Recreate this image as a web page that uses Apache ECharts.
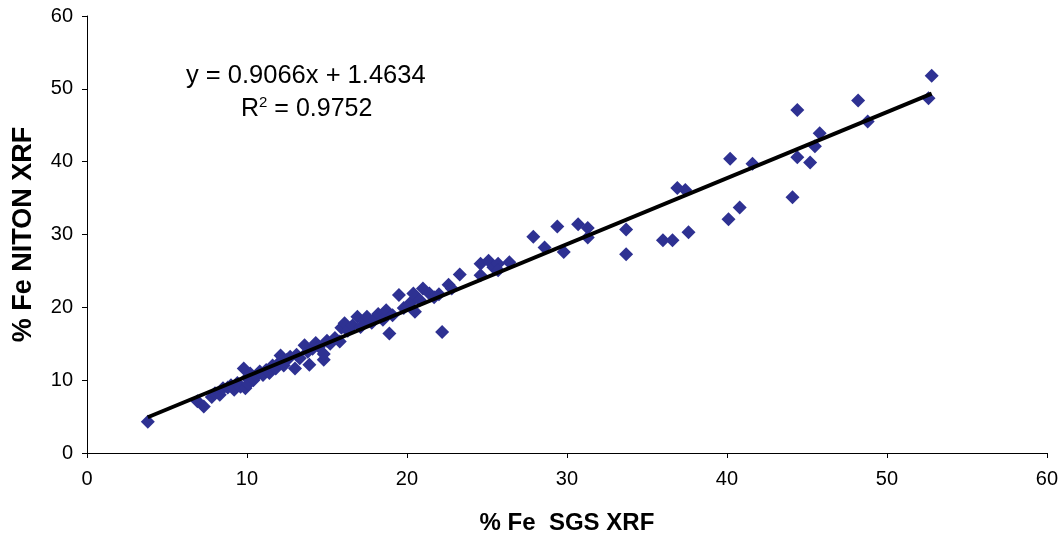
<!DOCTYPE html>
<html>
<head>
<meta charset="utf-8">
<script src="https://cdn.jsdelivr.net/npm/echarts@6/dist/echarts.min.js"></script>
<style>
  html, body { margin: 0; padding: 0; background: #fff; }
  #chart { width: 1061px; height: 540px; }
</style>
</head>
<body>
<div id="chart"></div>
<script>
// % Fe by SGS XRF (x) and by NITON XRF (y)
const sgsXrf = [
  3.8, 6.9, 7.3, 7.8,
  8.0, 8.3, 8.5, 8.8, 9.0, 9.2, 9.4, 9.6, 9.8, 9.9, 10.0, 10.1, 10.2, 10.4,
  10.6, 10.8, 11.0, 11.2, 11.4, 11.6, 11.8, 12.0, 12.1, 12.3, 12.5, 12.7, 13.0, 13.1, 13.3,
  13.6, 13.9, 13.8, 14.1, 14.3, 14.5, 14.8, 14.8, 15.0, 15.2, 15.5, 15.8, 15.9, 16.1, 16.3,
  16.6, 16.9, 17.1, 17.4, 17.5, 17.8, 18.0, 18.2, 18.5, 18.7, 18.9, 19.1,
  19.5, 19.8, 20.2, 20.4, 20.5, 20.8, 21.0, 21.4, 21.7, 22.0, 22.2, 22.6, 22.8,
  23.3, 24.6, 24.6, 25.1, 25.4, 25.7, 25.7, 26.4,
  27.9, 28.6, 29.4, 29.8, 30.7, 31.3, 31.3, 33.7, 33.7, 36.0, 36.6, 36.9, 37.4, 37.6,
  40.1, 40.2, 40.8, 41.6, 44.1, 44.4, 44.4, 45.2, 45.5, 45.8, 48.2, 48.8, 52.6, 52.8
];
const nitonXrf = [
  4.3, 7.1, 6.4, 7.7,
  8.2, 8.0, 8.9, 9.0, 9.3, 8.7, 9.6, 9.1, 11.6, 8.9, 10.3, 9.5, 10.9, 10.0,
  10.6, 11.2, 10.7, 11.4, 11.0, 12.0, 11.6, 12.4, 13.4, 12.0, 12.8, 13.2, 11.6, 13.5, 13.0,
  14.8, 12.1, 13.9, 14.3, 15.1, 14.6, 12.8, 13.6, 15.4, 15.0, 15.8, 15.3, 17.2, 17.8, 16.8,
  17.5, 18.7, 17.3, 18.2, 18.7, 17.9, 18.4, 19.1, 18.3, 19.6, 16.4, 18.9,
  21.7, 19.9, 20.6, 21.9, 19.4, 21.0, 22.6, 21.9, 21.4, 21.8, 16.6, 23.1, 22.6,
  24.5, 24.4, 26.0, 26.4, 25.5, 26.0, 25.1, 26.2,
  29.7, 28.2, 31.1, 27.6, 31.4, 30.9, 29.6, 30.7, 27.3, 29.2, 29.2, 36.4, 36.1, 30.3,
  32.1, 40.4, 33.7, 39.7, 35.1, 47.1, 40.6, 39.9, 42.1, 43.9, 48.4, 45.5, 48.7, 51.8
];

// linear trend (as printed on the chart)
const slope = 0.9066;
const intercept = 1.4634;
const rSquared = 0.9752;

const points = sgsXrf.map((x, i) => [x, nitonXrf[i]]);
const xMin = Math.min(...sgsXrf);
const xMax = Math.max(...sgsXrf);
const trend = [[xMin, slope * xMin + intercept], [xMax, slope * xMax + intercept]];

const font = 'Liberation Sans, Arial, sans-serif';

const option = {
  animation: false,
  grid: { left: 87, right: 14, top: 16, bottom: 85 },
  xAxis: {
    type: 'value',
    min: 0, max: 60, interval: 10,
    name: '% Fe  SGS XRF',
    nameLocation: 'middle',
    nameGap: 58,
    nameTextStyle: { fontFamily: font, fontWeight: 'bold', fontSize: 24, color: '#000' },
    axisLine: { lineStyle: { color: '#000', width: 1 } },
    axisTick: { length: 5, lineStyle: { color: '#000' } },
    axisLabel: { fontFamily: font, fontSize: 20, color: '#000', margin: 16 },
    splitLine: { show: false }
  },
  yAxis: {
    type: 'value',
    min: 0, max: 60, interval: 10,
    name: '% Fe NITON XRF',
    nameLocation: 'middle',
    nameGap: 50,
    nameTextStyle: { fontFamily: font, fontWeight: 'bold', fontSize: 27, color: '#000' },
    axisLine: { show: true, lineStyle: { color: '#000', width: 1 } },
    axisTick: { show: true, length: 5, lineStyle: { color: '#000' } },
    axisLabel: { fontFamily: font, fontSize: 20, color: '#000', margin: 14 },
    splitLine: { show: false }
  },
  graphic: [
    {
      type: 'text',
      left: 186, top: 63,
      style: { text: 'y = 0.9066x + 1.4634', font: '25.5px ' + font, fill: '#000' }
    },
    {
      type: 'text',
      left: 241, top: 95,
      style: {
        text: '{a|R}{s|2}{a| = ' + rSquared.toFixed(4) + '}',
        rich: {
          a: { fontFamily: font, fontSize: 25, fill: '#000', verticalAlign: 'bottom' },
          s: { fontFamily: font, fontSize: 15, fill: '#000', verticalAlign: 'top', padding: [0, 0, 12, 0] }
        }
      }
    }
  ],
  series: [
    {
      type: 'scatter',
      data: points,
      symbol: 'diamond',
      symbolSize: 14,
      itemStyle: { color: '#2E3192', opacity: 1 },
      z: 2
    },
    {
      type: 'line',
      data: trend,
      symbol: 'none',
      lineStyle: { color: '#000', width: 4 },
      z: 3
    }
  ]
};

const myChart = echarts.init(document.getElementById('chart'));
myChart.setOption(option);
</script>
</body>
</html>
